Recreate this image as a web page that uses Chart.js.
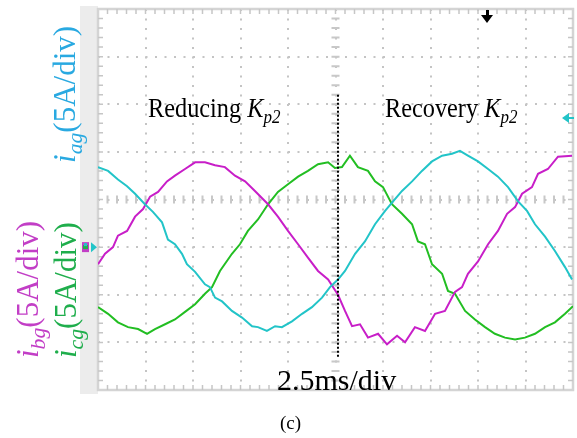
<!DOCTYPE html>
<html>
<head>
<meta charset="utf-8">
<script src="https://cdn.jsdelivr.net/npm/chart.js@4"></script>
<style>
  body { margin: 0; background: #fff; }
  #wrap { position: relative; width: 577px; height: 438px; overflow: hidden; }
  .t { position: absolute; font-family: "Liberation Serif", "Times New Roman", serif; line-height: 1; white-space: nowrap; color: #000; }
  .t sub { font-size: 0.7em; position: relative; top: 0.3em; vertical-align: baseline; font-style: italic; }
  .rot { transform-origin: 0 0; transform: rotate(-90deg); }
</style>
</head>
<body>
<div id="wrap">
  <canvas id="scope" width="577" height="438"></canvas>
  <div class="t" style="left:148px;top:95px;font-size:27px;transform-origin:0 0;transform:scaleX(0.9);">Reducing <i>K</i><sub>p2</sub></div>
  <div class="t" style="left:385px;top:95px;font-size:27px;transform-origin:0 0;transform:scaleX(0.9);">Recovery <i>K</i><sub>p2</sub></div>
  <div class="t" style="left:277px;top:365px;font-size:30px;">2.5ms/div</div>
  <div class="t" style="left:280px;top:413px;font-size:19px;">(c)</div>
  <div class="t rot" style="left:49px;top:163px;font-size:31px;color:#29a9e1;"><i>i</i><sub>ag</sub>(5A/div)</div>
  <div class="t rot" style="left:12px;top:358px;font-size:31px;color:#c23ec6;"><i>i</i><sub>bg</sub>(5A/div)</div>
  <div class="t rot" style="left:50px;top:358px;font-size:31px;color:#1fae4c;"><i>i</i><sub>cg</sub>(5A/div)</div>
</div>
<script>
// time in ms (2.5 ms/div), current in A (5 A/div)
const agTime = [0, 0.53, 1.05, 1.53, 1.95, 2.47, 2.89, 3.37, 3.68, 4.05, 4.42, 4.68, 5.11, 5.63, 5.89, 6.16, 6.53, 7.05, 7.58, 8.11, 8.42, 8.89, 9.32, 9.68, 10.21, 10.74, 11.26, 11.79, 12.21, 12.63, 13.0, 13.53, 14.05, 14.58, 15.11, 15.53, 16.0, 16.53, 17.05, 17.58, 18.11, 18.63, 19.05, 19.47, 20.0, 20.53, 21.05, 21.58, 22.11, 22.58, 23.0, 23.53, 24.05, 24.58, 24.95];
const agCurrent = [8.4, 8.0, 7.1, 6.4, 5.6, 4.5, 3.7, 2.6, 0.8, 0.3, -0.7, -1.8, -2.6, -3.9, -4.2, -5.3, -5.7, -6.7, -7.4, -8.3, -8.4, -8.8, -8.3, -8.4, -7.8, -7.0, -6.3, -5.3, -4.2, -3.4, -2.5, -0.7, 0.6, 2.4, 3.8, 4.8, 5.9, 6.9, 8.0, 9.0, 9.6, 9.8, 10.1, 9.6, 9.0, 8.2, 7.4, 6.3, 4.8, 3.8, 2.4, 1.1, -0.4, -2.1, -3.4];

const bgTime = [0, 0.37, 0.79, 1.05, 1.53, 1.95, 2.37, 2.74, 3.16, 3.63, 4.05, 4.58, 5.11, 5.63, 6.16, 6.68, 7.21, 7.74, 8.26, 8.95, 9.47, 10.0, 10.53, 11.05, 11.58, 12.11, 12.63, 13.0, 13.37, 13.79, 14.21, 14.74, 15.21, 15.74, 16.16, 16.68, 17.21, 17.74, 18.26, 18.79, 19.16, 19.47, 20.0, 20.53, 21.05, 21.53, 21.95, 22.32, 22.84, 23.16, 23.68, 24.21, 24.95];
const bgCurrent = [-1.8, -0.7, 0.0, 1.2, 1.7, 3.2, 4.0, 5.3, 5.8, 6.9, 7.5, 8.2, 8.9, 8.9, 8.6, 8.4, 7.5, 6.9, 5.9, 4.5, 3.2, 1.7, 0.3, -1.1, -2.5, -3.4, -5.0, -6.7, -8.3, -8.1, -9.5, -9.1, -10.2, -9.3, -10.0, -8.4, -8.8, -7.0, -6.7, -4.7, -4.2, -2.8, -1.5, 0.3, 1.7, 3.5, 4.2, 5.6, 6.3, 7.7, 8.2, 9.5, 9.6];

const cgTime = [0, 0.53, 1.05, 1.58, 2.11, 2.58, 3.0, 3.53, 4.05, 4.58, 5.11, 5.63, 6.0, 6.42, 7.05, 7.47, 7.89, 8.42, 8.95, 9.47, 10.0, 10.53, 11.05, 11.58, 12.11, 12.47, 12.84, 13.26, 13.68, 14.21, 14.58, 15.0, 15.47, 16.0, 16.53, 16.84, 17.21, 17.58, 18.11, 18.42, 18.79, 19.32, 19.84, 20.37, 20.89, 21.42, 21.95, 22.47, 23.0, 23.53, 24.05, 24.58, 25.0];
const cgCurrent = [-6.3, -7.0, -7.9, -8.4, -8.6, -9.1, -8.6, -8.1, -7.6, -6.8, -6.0, -4.9, -4.2, -2.5, -0.7, 0.3, 1.7, 2.9, 4.5, 5.8, 6.6, 7.4, 8.0, 8.7, 8.9, 8.3, 8.4, 9.6, 8.4, 8.0, 6.9, 6.3, 4.5, 3.5, 2.4, 0.6, 0.3, -1.8, -2.8, -4.6, -4.9, -6.7, -7.6, -8.4, -9.1, -9.5, -9.7, -9.5, -9.1, -8.4, -7.9, -7.0, -6.2];

// axis limits: 10 x 8 divisions
const timeRange = [0, 25];
const currentRange = [-15, 25];
const switchTime = 12.63; // Kp2 switch instant (dashed marker)

const pairs = (xs, ys) => xs.map((x, i) => ({ x: x, y: ys[i] }));

const scopeDecor = {
  id: "scopeDecor",
  beforeDraw(chart) {
    const ctx = chart.ctx;
    ctx.save();
    ctx.fillStyle = "#ececec";
    ctx.fillRect(80, 6, 18, 388);
    ctx.restore();
  },
  beforeDatasetsDraw(chart) {
    const { ctx, chartArea: a, scales: { x, y } } = chart;
    const dx = (a.right - a.left) / 50;
    const dy = (a.bottom - a.top) / 40;
    ctx.save();
    // frame
    ctx.strokeStyle = "#d4d4d4";
    ctx.lineWidth = 2.5;
    ctx.strokeRect(a.left, a.top, a.right - a.left, a.bottom - a.top);
    // edge ticks
    ctx.strokeStyle = "#c6c6c6";
    ctx.lineWidth = 1.5;
    ctx.beginPath();
    for (let i = 1; i < 50; i++) {
      const px = a.left + i * dx;
      ctx.moveTo(px, a.top); ctx.lineTo(px, a.top + 5);
      ctx.moveTo(px, a.bottom); ctx.lineTo(px, a.bottom - 5);
    }
    for (let j = 1; j < 40; j++) {
      const py = a.top + j * dy;
      ctx.moveTo(a.left, py); ctx.lineTo(a.left + 5, py);
      ctx.moveTo(a.right, py); ctx.lineTo(a.right - 5, py);
    }
    ctx.stroke();
    // centre cross ticks
    const cy = y.getPixelForValue(5);
    const cx = x.getPixelForValue(12.5);
    ctx.strokeStyle = "#c8c8c8";
    ctx.lineWidth = 2;
    ctx.beginPath();
    for (let i = 1; i < 50; i++) {
      const px = a.left + i * dx;
      ctx.moveTo(px, cy - 4); ctx.lineTo(px, cy + 4);
    }
    for (let j = 1; j < 40; j++) {
      const py = a.top + j * dy;
      ctx.moveTo(cx - 4, py); ctx.lineTo(cx + 4, py);
    }
    ctx.stroke();
    ctx.restore();
  },
  afterDatasetsDraw(chart) {
    const { ctx, scales: { x, y } } = chart;
    ctx.save();
    // switch instant
    const sx = x.getPixelForValue(switchTime);
    ctx.strokeStyle = "#000";
    ctx.lineWidth = 2;
    ctx.setLineDash([2, 2]);
    ctx.beginPath();
    ctx.moveTo(sx, y.getPixelForValue(16));
    ctx.lineTo(sx, y.getPixelForValue(-11.5));
    ctx.stroke();
    ctx.setLineDash([]);
    // trigger position (top)
    ctx.fillStyle = "#000";
    ctx.fillRect(486, 10, 3, 7);
    ctx.beginPath();
    ctx.moveTo(481, 15); ctx.lineTo(493, 15); ctx.lineTo(487, 23);
    ctx.closePath(); ctx.fill();
    // trigger level (right)
    ctx.fillStyle = "#22c4c8";
    ctx.beginPath();
    ctx.moveTo(562, 118); ctx.lineTo(569, 113); ctx.lineTo(569, 123);
    ctx.closePath(); ctx.fill();
    ctx.fillRect(568, 117, 6, 2);
    // ground markers (left)
    const gy = y.getPixelForValue(0);
    ctx.fillStyle = "#c23ec6";
    ctx.fillRect(82, gy - 5, 7, 10);
    ctx.fillStyle = "#1fae4c";
    ctx.fillRect(83, gy - 2, 5, 4);
    ctx.fillStyle = "#22c4c8";
    ctx.fillRect(84, gy - 4, 3, 3);
    ctx.beginPath();
    ctx.moveTo(91, gy - 5); ctx.lineTo(91, gy + 5); ctx.lineTo(97, gy);
    ctx.closePath(); ctx.fill();
    ctx.restore();
  }
};

new Chart(document.getElementById("scope"), {
  type: "line",
  data: {
    datasets: [
      { label: "i_ag", data: pairs(agTime, agCurrent), borderColor: "#22c4c8", borderWidth: 2, pointRadius: 0, tension: 0 },
      { label: "i_bg", data: pairs(bgTime, bgCurrent), borderColor: "#c81ec8", borderWidth: 2, pointRadius: 0, tension: 0 },
      { label: "i_cg", data: pairs(cgTime, cgCurrent), borderColor: "#22be22", borderWidth: 2, pointRadius: 0, tension: 0 }
    ]
  },
  options: {
    responsive: false,
    animation: false,
    devicePixelRatio: 1,
    layout: { padding: { left: 98, right: 4, top: 9, bottom: 48 } },
    plugins: { legend: { display: false }, tooltip: { enabled: false } },
    scales: {
      x: {
        type: "linear", min: timeRange[0], max: timeRange[1],
        ticks: { display: false, stepSize: 2.5 },
        grid: { color: "#c4c4c4", lineWidth: 2, drawTicks: false },
        border: { display: false, dash: [2, 7.5] }
      },
      y: {
        type: "linear", min: currentRange[0], max: currentRange[1],
        ticks: { display: false, stepSize: 5 },
        grid: { color: "#c4c4c4", lineWidth: 2, drawTicks: false },
        border: { display: false, dash: [2, 7.5] }
      }
    }
  },
  plugins: [scopeDecor]
});
</script>
</body>
</html>
